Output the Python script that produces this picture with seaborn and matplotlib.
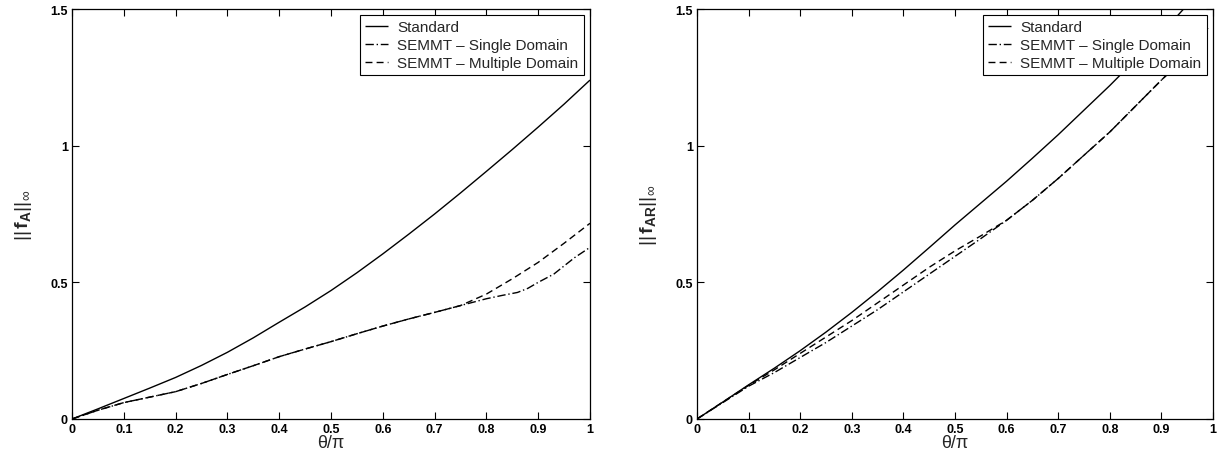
import numpy as np
import pandas as pd
import matplotlib
matplotlib.use("Agg")
import matplotlib.pyplot as plt
import seaborn as sns

# ---- data ----
theta_std_A = [0, 0.05, 0.1, 0.15, 0.2, 0.25, 0.3, 0.35, 0.4, 0.45, 0.5, 0.55, 0.6,
               0.65, 0.7, 0.75, 0.8, 0.85, 0.9, 0.95, 1.0]
std_A = [0, 0.037, 0.075, 0.113, 0.152, 0.196, 0.244, 0.297, 0.354, 0.41, 0.47, 0.535,
         0.604, 0.676, 0.750, 0.827, 0.906, 0.986, 1.068, 1.152, 1.240]

theta_single_A = [0, 0.05, 0.1, 0.15, 0.2, 0.25, 0.3, 0.35, 0.4, 0.45, 0.5, 0.55, 0.6,
                  0.65, 0.7, 0.75, 0.8, 0.83, 0.86, 0.88, 0.9, 0.93, 0.95, 0.97, 1.0]
single_A = [0, 0.032, 0.060, 0.080, 0.100, 0.130, 0.163, 0.195, 0.228, 0.256, 0.283,
            0.312, 0.34, 0.366, 0.39, 0.415, 0.44, 0.452, 0.463, 0.478, 0.50, 0.53,
            0.56, 0.59, 0.628]

theta_multi_A = [0, 0.05, 0.1, 0.15, 0.2, 0.25, 0.3, 0.35, 0.4, 0.45, 0.5, 0.55, 0.6,
                 0.65, 0.7, 0.75, 0.8, 0.85, 0.9, 0.95, 1.0]
multi_A = [0, 0.032, 0.060, 0.080, 0.100, 0.130, 0.163, 0.195, 0.228, 0.256, 0.283,
           0.312, 0.34, 0.366, 0.39, 0.415, 0.457, 0.513, 0.573, 0.643, 0.716]

theta_std_AR = [0, 0.05, 0.1, 0.15, 0.2, 0.25, 0.3, 0.35, 0.4, 0.45, 0.5, 0.55, 0.6,
                0.65, 0.7, 0.75, 0.8, 0.85, 0.9, 0.943]
std_AR = [0, 0.062, 0.125, 0.186, 0.25, 0.318, 0.39, 0.466, 0.545, 0.627, 0.71, 0.79,
          0.87, 0.954, 1.04, 1.13, 1.22, 1.315, 1.41, 1.5]

theta_single_AR = [0, 0.05, 0.1, 0.15, 0.2, 0.25, 0.3, 0.35, 0.4, 0.45, 0.5, 0.55, 0.6,
                   0.65, 0.7, 0.75, 0.8, 0.85, 0.9, 0.95, 0.99]
single_AR = [0, 0.06, 0.12, 0.17, 0.225, 0.28, 0.34, 0.40, 0.465, 0.53, 0.595, 0.66,
             0.727, 0.80, 0.88, 0.965, 1.05, 1.145, 1.24, 1.33, 1.43]

theta_multi_AR = [0, 0.05, 0.1, 0.15, 0.2, 0.25, 0.3, 0.35, 0.4, 0.45, 0.5, 0.55, 0.6,
                  0.65, 0.7, 0.75, 0.8, 0.85, 0.9, 0.95, 0.99]
multi_AR = [0, 0.062, 0.123, 0.18, 0.24, 0.30, 0.36, 0.425, 0.49, 0.555, 0.615, 0.67,
            0.727, 0.80, 0.88, 0.965, 1.05, 1.145, 1.24, 1.33, 1.43]

labels = ["Standard", "SEMMT \u2013 Single Domain", "SEMMT \u2013 Multiple Domain"]
x_ticks = [0, 0.1, 0.2, 0.3, 0.4, 0.5, 0.6, 0.7, 0.8, 0.9, 1]
x_ticklabels = ["0", "0.1", "0.2", "0.3", "0.4", "0.5", "0.6", "0.7", "0.8", "0.9", "1"]
y_ticks = [0, 0.5, 1, 1.5]
y_ticklabels = ["0", "0.5", "1", "1.5"]

sns.set_theme(style="ticks")
plt.rcParams["font.family"] = ["Liberation Sans", "DejaVu Sans"]
plt.rcParams["mathtext.fontset"] = "custom"
plt.rcParams["mathtext.rm"] = "Liberation Sans"
plt.rcParams["mathtext.bf"] = "Liberation Sans:bold"
plt.rcParams["mathtext.it"] = "Liberation Sans:italic"

fig = plt.figure(figsize=(12.22, 4.56), dpi=100)
W, H = 1222, 456
axL = fig.add_axes([72 / W, (H - 420) / H, (590 - 72) / W, (420 - 10) / H])
axR = fig.add_axes([697 / W, (H - 420) / H, (1213 - 697) / W, (420 - 10) / H])


def make_df(ts, vs, name):
    return pd.DataFrame({"theta": ts, "val": vs, "series": name})


def draw(ax, parts, ylabel):
    df = pd.concat([make_df(t, v, n) for (t, v, n) in parts], ignore_index=True)
    sns.lineplot(data=df, x="theta", y="val", hue="series", style="series",
                 hue_order=labels, style_order=labels,
                 palette=["black"] * 3, dashes=[(1, 0), (6, 2, 1, 2), (5, 3)],
                 linewidth=1.0, ax=ax, sort=False, estimator=None)
    ax.set_xlim(0, 1)
    ax.set_ylim(0, 1.5)
    ax.set_xticks(x_ticks)
    ax.set_xticklabels(x_ticklabels, fontsize=9, fontweight="bold")
    ax.set_yticks(y_ticks)
    ax.set_yticklabels(y_ticklabels, fontsize=9, fontweight="bold")
    ax.tick_params(direction="in", top=True, right=True, length=5, width=0.8,
                   pad=3, colors="black")
    for s in ax.spines.values():
        s.set_color("black")
        s.set_linewidth(0.9)
    ax.set_xlabel("\u03b8/\u03c0", fontsize=13, labelpad=-1)
    ax.set_ylabel(ylabel, fontsize=14, fontweight="bold", labelpad=12)
    leg = ax.legend(loc="upper right", fontsize=11, frameon=True, fancybox=False,
                    edgecolor="black", framealpha=1, handlelength=1.5,
                    borderpad=0.35, labelspacing=0.25, handletextpad=0.6,
                    borderaxespad=0.4)
    leg.get_frame().set_linewidth(0.8)


draw(axL, [(theta_std_A, std_A, labels[0]),
           (theta_single_A, single_A, labels[1]),
           (theta_multi_A, multi_A, labels[2])],
     r"$||\,\mathbf{f}_{\mathbf{A}}||_{\infty}$")
draw(axR, [(theta_std_AR, std_AR, labels[0]),
           (theta_single_AR, single_AR, labels[1]),
           (theta_multi_AR, multi_AR, labels[2])],
     r"$||\,\mathbf{f}_{\mathbf{AR}}||_{\infty}$")

fig.savefig("out.png", dpi=100)
